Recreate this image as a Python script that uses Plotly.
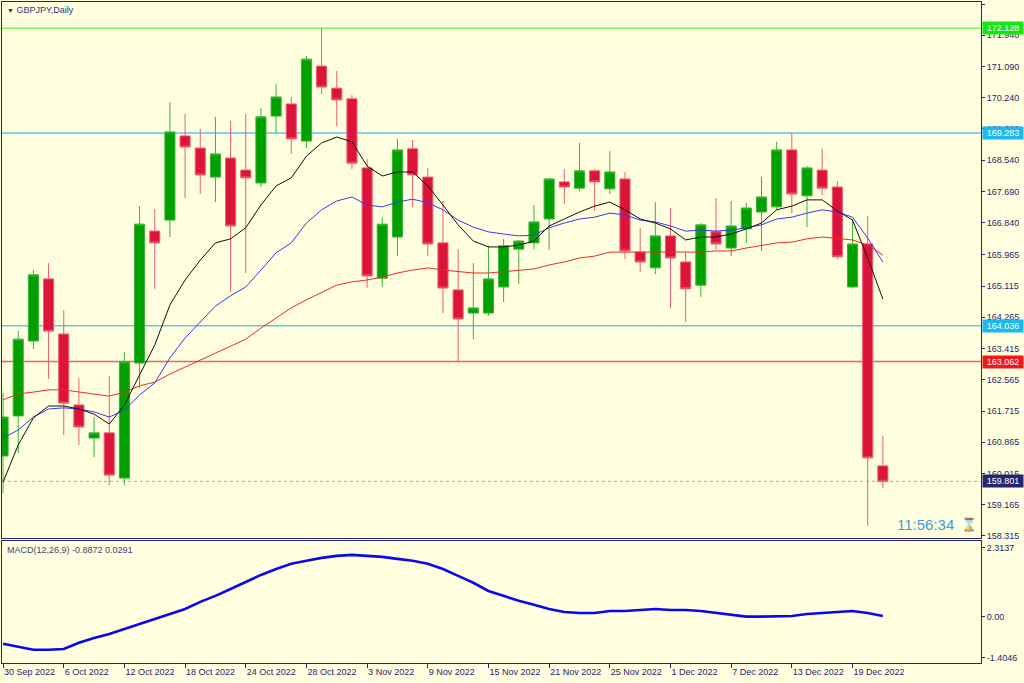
import plotly.graph_objects as go

# GBPJPY daily bars, 30 Sep 2022 .. 21 Dec 2022 (59 trading days)
OPEN = [160.49, 161.58, 163.62, 165.31, 163.81, 161.88, 160.98, 161.12, 159.89, 163.02,
        166.61, 166.91, 169.20, 168.87, 168.08, 168.60, 168.27, 167.92, 169.74, 170.07,
        169.06, 171.10, 170.50, 170.21, 168.33, 165.33, 166.45, 168.85, 168.08, 166.29,
        165.01, 164.38, 164.38, 165.09, 166.12, 166.29, 166.94, 167.95, 167.78, 168.25,
        167.76, 168.03, 166.04, 165.61, 166.48, 165.77, 165.14, 166.59, 166.15, 166.67,
        167.13, 167.27, 168.82, 167.57, 168.27, 167.81, 165.09, 166.26, 160.22]
HIGH = [162.21, 163.89, 165.55, 165.74, 164.46, 162.61, 161.55, 162.67, 163.32, 167.29,
        167.21, 170.12, 169.80, 169.39, 169.72, 169.61, 169.80, 169.96, 170.61, 170.26,
        171.38, 172.13, 170.97, 170.31, 168.57, 166.99, 169.12, 169.09, 168.33, 167.43,
        166.12, 165.74, 166.21, 166.40, 166.37, 167.32, 168.06, 168.30, 169.01, 168.30,
        168.79, 168.22, 166.70, 167.40, 167.24, 166.02, 166.83, 167.51, 167.43, 167.38,
        168.08, 169.04, 169.28, 168.38, 168.85, 167.97, 166.94, 167.02, 161.04]
LOW = [159.48, 160.57, 163.40, 162.59, 161.06, 160.79, 160.46, 159.70, 159.70, 162.34,
       165.04, 166.45, 167.51, 167.62, 167.40, 164.95, 165.47, 167.81, 169.28, 168.71,
       168.87, 170.34, 169.47, 168.30, 165.06, 165.09, 165.93, 167.27, 165.93, 164.38,
       163.06, 163.67, 164.30, 164.68, 165.17, 166.12, 166.10, 167.35, 167.70, 167.16,
       167.62, 165.85, 165.50, 165.44, 164.52, 164.14, 164.82, 166.12, 165.93, 166.29,
       166.07, 167.19, 167.10, 166.72, 167.59, 165.85, 165.06, 158.59, 159.62]
CLOSE = [161.55, 163.67, 165.42, 163.89, 161.93, 161.28, 161.12, 159.97, 163.05, 166.80,
         166.29, 169.31, 168.90, 168.14, 168.71, 166.75, 168.06, 169.72, 170.26, 169.12,
         171.29, 170.53, 170.18, 168.46, 165.39, 166.80, 168.82, 168.14, 166.26, 165.06,
         164.22, 164.52, 165.31, 166.21, 166.34, 166.86, 168.03, 167.81, 168.25, 167.95,
         168.22, 166.07, 165.77, 166.48, 165.88, 165.04, 166.78, 166.26, 166.75, 167.24,
         167.54, 168.82, 167.62, 168.33, 167.78, 165.91, 166.26, 160.44, 159.801]

# moving averages as drawn on the chart
MA_FAST = [159.78, 160.79, 161.53, 161.85, 161.85, 161.77, 161.63, 161.36, 161.88, 162.70,
           163.51, 164.60, 165.28, 165.82, 166.29, 166.40, 166.70, 167.32, 167.84, 168.06,
           168.65, 169.01, 169.17, 169.04, 168.38, 168.11, 168.22, 168.22, 167.84, 167.32,
           166.78, 166.34, 166.18, 166.18, 166.23, 166.34, 166.75, 166.94, 167.13, 167.29,
           167.40, 167.19, 166.94, 166.83, 166.67, 166.37, 166.45, 166.45, 166.53, 166.67,
           166.83, 167.19, 167.29, 167.46, 167.46, 167.16, 166.91, 165.88, 164.76]
MA_MID = [160.98, 161.20, 161.55, 161.77, 161.80, 161.77, 161.69, 161.55, 161.74, 162.15,
          162.48, 163.16, 163.70, 164.14, 164.57, 164.85, 165.09, 165.55, 166.02, 166.29,
          166.83, 167.19, 167.43, 167.54, 167.32, 167.27, 167.40, 167.48, 167.38, 167.19,
          166.91, 166.72, 166.59, 166.53, 166.48, 166.50, 166.70, 166.83, 166.94, 166.99,
          167.10, 167.05, 166.91, 166.86, 166.75, 166.61, 166.64, 166.61, 166.64, 166.70,
          166.78, 166.94, 166.99, 167.10, 167.19, 167.13, 166.99, 166.42, 165.77]
MA_SLOW = [162.02, 162.18, 162.23, 162.29, 162.29, 162.23, 162.18, 162.12, 162.23, 162.40,
           162.50, 162.72, 162.91, 163.10, 163.29, 163.46, 163.67, 163.97, 164.25, 164.52,
           164.74, 164.95, 165.14, 165.23, 165.28, 165.36, 165.47, 165.55, 165.61, 165.55,
           165.50, 165.47, 165.47, 165.50, 165.55, 165.58, 165.69, 165.77, 165.88, 165.93,
           166.04, 166.04, 166.04, 166.02, 166.02, 166.02, 166.04, 166.07, 166.07, 166.15,
           166.21, 166.29, 166.31, 166.40, 166.45, 166.42, 166.37, 166.23, 165.96]

MACD_SIGNAL = [-0.82, -0.91, -1.00, -1.00, -0.98, -0.79, -0.64, -0.52, -0.37, -0.21,
               -0.06, 0.09, 0.24, 0.46, 0.64, 0.85, 1.07, 1.28, 1.46, 1.62,
               1.71, 1.80, 1.86, 1.89, 1.86, 1.83, 1.77, 1.71, 1.62, 1.46,
               1.25, 1.04, 0.79, 0.64, 0.49, 0.37, 0.24, 0.15, 0.12, 0.12,
               0.18, 0.18, 0.21, 0.24, 0.21, 0.21, 0.18, 0.12, 0.06, 0.01,
               0.01, 0.01, 0.03, 0.09, 0.12, 0.15, 0.18, 0.12, 0.03]

TICK_POS = [0, 4, 8, 12, 16, 20, 24, 28, 32, 36, 40, 44, 48, 52, 56]
TICK_TEXT = ["30 Sep 2022", "6 Oct 2022", "12 Oct 2022", "18 Oct 2022", "24 Oct 2022",
             "28 Oct 2022", "3 Nov 2022", "9 Nov 2022", "15 Nov 2022", "21 Nov 2022",
             "25 Nov 2022", "1 Dec 2022", "7 Dec 2022", "13 Dec 2022", "19 Dec 2022"]
PRICE_TICKS = [172.790, 171.940, 171.090, 170.240, 169.390, 168.540, 167.690, 166.840,
               165.965, 165.115, 164.265, 163.415, 162.565, 161.715, 160.865, 160.015,
               159.165, 158.315]
# scale max / zero / scale min of the MACD window; MT4 prints the extremes just
# inside the window edges, so their ticks sit a little inward
MACD_RANGE = [-1.4046, 2.3137]
MACD_TICK_POS = [2.12, 0.0, -1.24]
MACD_TICK_TEXT = ["2.3137", "0.00", "-1.4046"]

LEVELS = [172.128, 169.283, 164.036, 163.062]
LEVEL_LINE = ["#7CF25C", "#62C6E6", "#62C6E6", "#F26060"]
LEVEL_BOX = ["#14E614", "#1CB8F0", "#1CB8F0", "#F01818"]

BG = "#FFFFE0"
NAVY = "#26266E"
FONT = "Liberation Sans, Arial, sans-serif"
W, H = 1024, 683

x = list(range(len(OPEN)))
bid = CLOSE[-1]

fig = go.Figure()

for ma, col in [(MA_SLOW, "#F02828"), (MA_MID, "#3838F0"), (MA_FAST, "#101010")]:
    fig.add_trace(go.Scatter(x=x, y=ma, mode="lines", line=dict(color=col, width=1),
                             xaxis="x", yaxis="y", hoverinfo="skip"))

fig.add_trace(go.Candlestick(
    x=x, open=OPEN, high=HIGH, low=LOW, close=CLOSE,
    increasing=dict(line=dict(color="#3AB23A", width=1), fillcolor="#00A000"),
    decreasing=dict(line=dict(color="#EC5C72", width=1), fillcolor="#DC143C"),
    whiskerwidth=0, xaxis="x", yaxis="y",
))

fig.add_trace(go.Scatter(x=x, y=MACD_SIGNAL, mode="lines",
                         line=dict(color="#0808F0", width=2.6),
                         xaxis="x2", yaxis="y2"))

# horizontal levels (drawn behind the bars)
shapes = []
for lv, col in zip(LEVELS, LEVEL_LINE):
    shapes.append(dict(type="line", xref="x domain", yref="y", x0=0, x1=1, y0=lv, y1=lv,
                       line=dict(color=col, width=1.5), layer="below"))
shapes.append(dict(type="line", xref="x domain", yref="y", x0=0, x1=1, y0=bid, y1=bid,
                   line=dict(color="#A8A8A8", width=1, dash="dot"), layer="below"))

annotations = []
for lv, col in zip(LEVELS + [bid], LEVEL_BOX + [NAVY]):
    annotations.append(dict(
        xref="paper", yref="y", x=982 / W, y=lv, xanchor="left", yanchor="middle",
        text=f"{lv:.3f}", showarrow=False, bgcolor=col, borderpad=1, width=38,
        font=dict(family=FONT, size=9, color="#FFFFFF"),
    ))

annotations += [
    dict(xref="paper", yref="paper", x=5 / W, y=1 - 10 / H, xanchor="left", yanchor="middle",
         text="<span style='font-size:7px'>▼</span> GBPJPY,Daily", showarrow=False,
         font=dict(family=FONT, size=9, color="#34347A")),
    dict(xref="paper", yref="paper", x=5 / W, y=1 - 550 / H, xanchor="left", yanchor="middle",
         text="MACD(12,26,9) -0.8872 0.0291", showarrow=False,
         font=dict(family=FONT, size=9, color="#44446E")),
    dict(xref="paper", yref="paper", x=956 / W, y=1 - 524 / H, xanchor="right", yanchor="middle",
         text="11:56:34", showarrow=False,
         font=dict(family=FONT, size=15, color="#3C9CDC")),
    dict(xref="paper", yref="paper", x=969 / W, y=1 - 524 / H, xanchor="center", yanchor="middle",
         text="⌛", showarrow=False,
         font=dict(family="DejaVu Sans", size=13, color="#3C9CDC")),
]

axis_common = dict(showgrid=False, zeroline=False, showline=True, mirror=True,
                   linecolor=NAVY, linewidth=1, automargin=False)
x_dom = [2 / W, 981 / W]
x_rng = [-0.07, 64.47]

fig.update_layout(
    width=W, height=H,
    margin=dict(l=0, r=0, t=0, b=0),
    paper_bgcolor=BG, plot_bgcolor=BG,
    showlegend=False,
    boxgap=0.2, boxgroupgap=0.17,
    shapes=shapes,
    annotations=annotations,
    xaxis=dict(**axis_common, domain=x_dom, range=x_rng, anchor="y",
               showticklabels=False, ticks="", rangeslider=dict(visible=False)),
    yaxis=dict(**axis_common, domain=[1 - 538 / H, 1 - 2 / H], range=[158.259, 172.845],
               anchor="x", side="right", tickvals=PRICE_TICKS, tickformat=".3f",
               ticks="outside", ticklen=3, tickcolor=NAVY,
               tickfont=dict(family=FONT, size=9, color=NAVY)),
    xaxis2=dict(**axis_common, domain=x_dom, range=x_rng, anchor="y2",
                tickvals=TICK_POS, ticktext=TICK_TEXT, ticks="outside", ticklen=4,
                tickcolor=NAVY, ticklabelposition="outside right",
                tickfont=dict(family=FONT, size=9, color=NAVY)),
    yaxis2=dict(**axis_common, domain=[1 - 663 / H, 1 - 541 / H], range=MACD_RANGE,
                anchor="x2", side="right", tickvals=MACD_TICK_POS, ticktext=MACD_TICK_TEXT,
                ticks="outside", ticklen=3, tickcolor=NAVY,
                tickfont=dict(family=FONT, size=9, color=NAVY)),
)

# the page is exactly the figure size: drop the browser's default body margin
fig.write_html("out.html",
               config={"displayModeBar": False},
               post_script="document.body.style.margin='0';document.body.style.overflow='hidden';")
